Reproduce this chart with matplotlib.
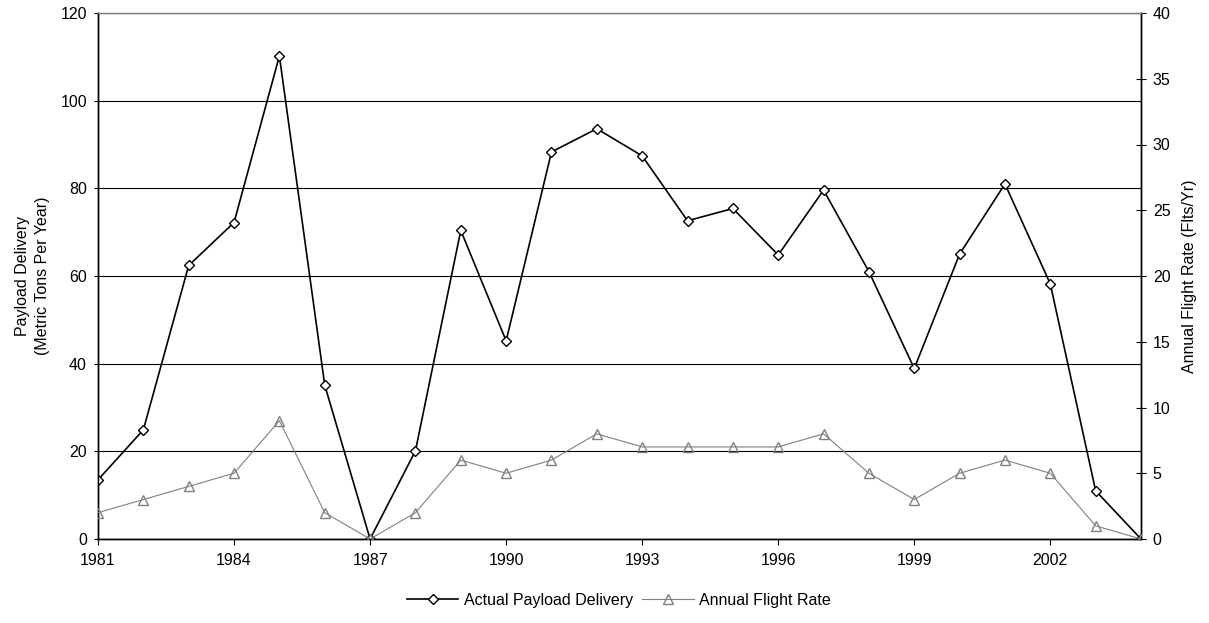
import matplotlib
matplotlib.use("Agg")
import matplotlib.pyplot as plt

plt.rcParams['font.family'] = ['Liberation Sans', 'DejaVu Sans']

years = list(range(1981, 2005))
payload = [13.5, 24.9, 62.4, 72.2, 110.2, 35.1, 0, 20.1, 70.4, 45.2, 88.3, 93.6,
           87.4, 72.6, 75.4, 64.8, 79.6, 61.0, 38.9, 65.0, 81.0, 58.2, 11.0, 0]
flights = [2, 3, 4, 5, 9, 2, 0, 2, 6, 5, 6, 8, 7, 7, 7, 7, 8, 5, 3, 5, 6, 5, 1, 0]
xtick_years = list(range(1981, 2003, 3))
left_ticks = list(range(0, 121, 20))
right_ticks = list(range(0, 41, 5))

W, H = 1209, 623
fig = plt.figure(figsize=(W / 100, H / 100), dpi=100)
ax = fig.add_axes([98 / W, 1 - 539 / H, (1141 - 98) / W, (539 - 13) / H])
ax2 = ax.twinx()

fs = 11.5
grey = '#808080'

l1, = ax.plot(years, payload, color='black', lw=1.2, marker='D', ms=5.2,
              mfc='white', mec='black', mew=1.0, label='Actual Payload Delivery', zorder=3)
l2, = ax2.plot(years, flights, color=grey, lw=0.8, marker='^', ms=7,
               mfc='none', mec=grey, mew=1.0, label='Annual Flight Rate', zorder=3)

ax.set_xlim(1981, 2004)
ax.set_ylim(0, 120)
ax2.set_ylim(0, 40)
ax.set_xticks(xtick_years)
ax.set_xticklabels([str(y) for y in xtick_years])
ax.set_yticks(left_ticks)
ax2.set_yticks(right_ticks)

ax.grid(axis='y', color='black', lw=0.8)
ax.set_axisbelow(True)

for a in (ax, ax2):
    a.spines['top'].set_color(grey)
    a.spines['top'].set_linewidth(0.9)
    for s in ('left', 'bottom', 'right'):
        a.spines[s].set_color('black')
        a.spines[s].set_linewidth(1.0)

ax.tick_params(axis='x', direction='out', length=4, width=0.8, pad=6, labelsize=fs)
ax.tick_params(axis='y', direction='out', length=3, width=0.8, pad=5, labelsize=fs)
ax2.tick_params(axis='y', direction='inout', length=7, width=0.8, pad=5, labelsize=fs)

ax.set_ylabel('Payload Delivery\n(Metric Tons Per Year)', fontsize=fs, linespacing=1.4)
ax.yaxis.set_label_coords(-0.046, 0.5)
ax2.set_ylabel('Annual Flight Rate (Flts/Yr)', fontsize=fs)
ax2.yaxis.set_label_coords(1.039, 0.5)

fig.legend(handles=[l1, l2], loc='center', bbox_to_anchor=(619 / W, 1 - 600 / H),
           ncol=2, frameon=False, fontsize=fs, handlelength=3.2, handletextpad=0.35,
           columnspacing=0.6, numpoints=1)

fig.savefig('out.png', dpi=100)
